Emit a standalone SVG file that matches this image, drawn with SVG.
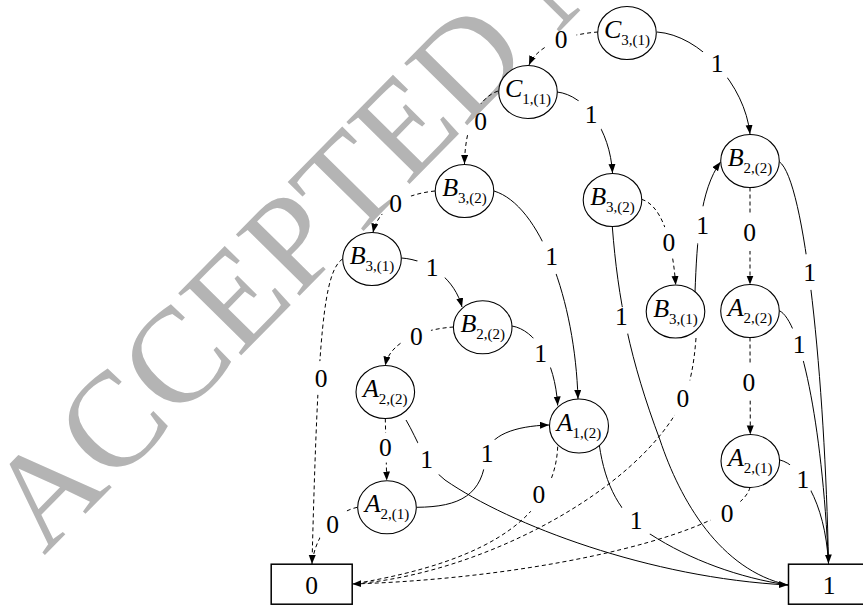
<svg xmlns="http://www.w3.org/2000/svg" width="863" height="607" viewBox="0 0 863 607">
<style>
.wm{font-family:"Liberation Serif","Times New Roman","DejaVu Serif",serif;font-size:135px;fill:#b4b4b4}
.node ellipse{fill:#fff;stroke:#000;stroke-width:1.1}
.node rect{fill:#fff;stroke:#000;stroke-width:1.5}
.nl{font-family:"Liberation Serif","Times New Roman","DejaVu Serif",serif;text-anchor:middle;fill:#000}
.nl .m{font-style:italic;font-size:26px}
.nl .s{font-size:15px}
.bl{font-family:"Liberation Serif","Times New Roman","DejaVu Serif",serif;font-size:25.5px;text-anchor:middle;fill:#000}
.el{font-family:"Liberation Serif","Times New Roman","DejaVu Serif",serif;font-size:25.5px;text-anchor:middle;fill:#000}
.e{fill:none;stroke:#000;stroke-width:1}
.d{stroke-dasharray:4 3}
.a{marker-end:url(#ah)}
</style>
<defs>
<marker id="ah" markerWidth="10" markerHeight="8" refX="9" refY="3.5" orient="auto" markerUnits="userSpaceOnUse"><path d="M0,0 L9,3.5 L0,7 Z" fill="#000"/></marker>
<mask id="gaps" maskUnits="userSpaceOnUse" x="0" y="0" width="863" height="607">
<rect x="0" y="0" width="863" height="607" fill="#fff"/>
<g fill="#000">
<circle cx="561" cy="39" r="16"/>
<circle cx="717" cy="63" r="18"/>
<circle cx="480.5" cy="121.7" r="18"/>
<circle cx="591" cy="114" r="18"/>
<circle cx="395.5" cy="203.3" r="17"/>
<circle cx="321" cy="378" r="17"/>
<circle cx="432" cy="267.7" r="16"/>
<circle cx="416.3" cy="336.7" r="16"/>
<circle cx="540.5" cy="353.8" r="17"/>
<circle cx="551.7" cy="256.7" r="18"/>
<circle cx="385.3" cy="447.7" r="15"/>
<circle cx="426.7" cy="459.7" r="19"/>
<circle cx="487.2" cy="453.8" r="16"/>
<circle cx="332.7" cy="524.7" r="18"/>
<circle cx="538.8" cy="494.3" r="19"/>
<circle cx="636.2" cy="520.5" r="19"/>
<circle cx="668.8" cy="242.5" r="16"/>
<circle cx="621.5" cy="321" r="14"/>
<circle cx="702.5" cy="225.3" r="19"/>
<circle cx="682.8" cy="398" r="19"/>
<circle cx="749.7" cy="233" r="18"/>
<circle cx="809.5" cy="272" r="18"/>
<circle cx="748.8" cy="382.5" r="18"/>
<ellipse cx="799" cy="344" rx="13" ry="18"/>
<circle cx="727.2" cy="513.8" r="18"/>
<ellipse cx="800" cy="478" rx="15" ry="18"/>
</g>
</mask>
</defs>
<rect x="0" y="0" width="863" height="607" fill="#fff"/>
<text class="wm" x="0" y="0" transform="translate(44,556) rotate(-45.5)">ACCEPTED MANUSCRIPT</text>
<g id="connectors" mask="url(#gaps)">
<path class="e d a" d="M598,32 C570,34 538,44 529,65"/>
<path class="e a" d="M657,32 C700,35 745,85 750,134"/>
<path class="e d a" d="M498,91 C478,98 465,125 464.5,164"/>
<path class="e a" d="M557,92 C585,95 610,130 612.5,173"/>
<path class="e d a" d="M435,191 C405,194 378,208 373,232.5"/>
<path class="e d a" d="M342.5,259 C324,272 318,330 312,564"/>
<path class="e a" d="M401.5,258 C430,260 455,280 462,307"/>
<path class="e d a" d="M453.5,327 C425,329 390,340 385.3,365.5"/>
<path class="e a" d="M512,326 C535,330 555,360 557.7,405.5"/>
<path class="e a" d="M494,191 C540,205 575,300 578,399"/>
<path class="e d a" d="M385.3,418.5 L386.7,480.5"/>
<path class="e a" d="M406,420 C418,440 425,465 445,480 C510,525 650,578 788,585"/>
<path class="e a" d="M416.7,507.3 C460,507 483,495 486,455 C489,435 515,426 549,425"/>
<path class="e d" d="M357.3,507.3 C335,512 315,535 312,564"/>
<path class="e d" d="M557.7,446.7 C555,510 500,560 352.3,584"/>
<path class="e" d="M599.3,445 C605,485 620,515 650,534 C690,560 740,578 788,585"/>
<path class="e d a" d="M641.7,199.3 C660,205 672,235 675.7,285"/>
<path class="e" d="M612.3,226.7 C618,300 630,360 660,440 C680,500 720,570 788,585"/>
<path class="e a" d="M695,292 C697,240 700,190 720.5,162"/>
<path class="e d" d="M696,338 C694,365 690,385 683,400 C640,490 480,575 352.3,584"/>
<path class="e d a" d="M750,187.5 L750,284.5"/>
<path class="e a" d="M779.3,161.7 C805,180 825,380 828.5,563.5"/>
<path class="e d a" d="M750,337.5 L750.3,434.5"/>
<path class="e" d="M779.3,310.7 C800,320 822,420 828.5,563.5"/>
<path class="e d a" d="M750,487.3 C740,530 550,578 352.3,584"/>
<path class="e" d="M780,460 C800,465 825,500 828.5,563.5"/>
</g>
<g id="edge-labels">
<text class="el" x="561" y="47.5">0</text>
<text class="el" x="717" y="71.5">1</text>
<text class="el" x="480.5" y="130.2">0</text>
<text class="el" x="591" y="122.5">1</text>
<text class="el" x="395.5" y="211.8">0</text>
<text class="el" x="321" y="386.5">0</text>
<text class="el" x="432" y="276.2">1</text>
<text class="el" x="416.3" y="345.2">0</text>
<text class="el" x="540.5" y="362.3">1</text>
<text class="el" x="551.7" y="265.2">1</text>
<text class="el" x="385.3" y="456.2">0</text>
<text class="el" x="426.7" y="468.2">1</text>
<text class="el" x="487.2" y="462.3">1</text>
<text class="el" x="332.7" y="533.2">0</text>
<text class="el" x="538.8" y="502.8">0</text>
<text class="el" x="636.2" y="529">1</text>
<text class="el" x="668.8" y="251">0</text>
<text class="el" x="621.3" y="324.7">1</text>
<text class="el" x="702.5" y="233.8">1</text>
<text class="el" x="682.8" y="406.5">0</text>
<text class="el" x="749.7" y="241">0</text>
<text class="el" x="809.5" y="280.5">1</text>
<text class="el" x="748.8" y="390.7">0</text>
<text class="el" x="799" y="353">1</text>
<text class="el" x="727.2" y="522.3">0</text>
<text class="el" x="802.8" y="487.7">1</text>
</g>
<g id="n-C31" class="node"><ellipse cx="627" cy="33" rx="29.3" ry="26.5"/><text class="nl" x="627" y="38"><tspan class="m">C</tspan><tspan class="s" dy="7">3,(1)</tspan></text></g>
<g id="n-C11" class="node"><ellipse cx="528" cy="92" rx="29.3" ry="26.5"/><text class="nl" x="528" y="97"><tspan class="m">C</tspan><tspan class="s" dy="7">1,(1)</tspan></text></g>
<g id="n-B32-left" class="node"><ellipse cx="464.5" cy="191" rx="29.3" ry="26.5"/><text class="nl" x="464.5" y="196"><tspan class="m">B</tspan><tspan class="s" dy="7">3,(2)</tspan></text></g>
<g id="n-B32-right" class="node"><ellipse cx="612.5" cy="200" rx="29.3" ry="26.5"/><text class="nl" x="612.5" y="205"><tspan class="m">B</tspan><tspan class="s" dy="7">3,(2)</tspan></text></g>
<g id="n-B22-right" class="node"><ellipse cx="750" cy="161" rx="29.3" ry="26.5"/><text class="nl" x="750" y="166"><tspan class="m">B</tspan><tspan class="s" dy="7">2,(2)</tspan></text></g>
<g id="n-B31-left" class="node"><ellipse cx="372" cy="259" rx="29.3" ry="26.5"/><text class="nl" x="372" y="264"><tspan class="m">B</tspan><tspan class="s" dy="7">3,(1)</tspan></text></g>
<g id="n-B31-right" class="node"><ellipse cx="675.5" cy="311.5" rx="29.3" ry="26.5"/><text class="nl" x="675.5" y="316.5"><tspan class="m">B</tspan><tspan class="s" dy="7">3,(1)</tspan></text></g>
<g id="n-A22-right" class="node"><ellipse cx="750" cy="311" rx="29.3" ry="26.5"/><text class="nl" x="750" y="316"><tspan class="m">A</tspan><tspan class="s" dy="7">2,(2)</tspan></text></g>
<g id="n-B22-mid" class="node"><ellipse cx="482.7" cy="327.3" rx="29.3" ry="26.5"/><text class="nl" x="482.7" y="332.3"><tspan class="m">B</tspan><tspan class="s" dy="7">2,(2)</tspan></text></g>
<g id="n-A22-left" class="node"><ellipse cx="385.3" cy="392" rx="29.3" ry="26.5"/><text class="nl" x="385.3" y="397"><tspan class="m">A</tspan><tspan class="s" dy="7">2,(2)</tspan></text></g>
<g id="n-A12" class="node"><ellipse cx="579" cy="426" rx="29.5" ry="27"/><text class="nl" x="579" y="431"><tspan class="m">A</tspan><tspan class="s" dy="7">1,(2)</tspan></text></g>
<g id="n-A21-right" class="node"><ellipse cx="750.3" cy="461" rx="29.3" ry="26.5"/><text class="nl" x="750.3" y="466"><tspan class="m">A</tspan><tspan class="s" dy="7">2,(1)</tspan></text></g>
<g id="n-A21-left" class="node"><ellipse cx="387" cy="507.3" rx="29.3" ry="26.5"/><text class="nl" x="387" y="512.3"><tspan class="m">A</tspan><tspan class="s" dy="7">2,(1)</tspan></text></g>
<g id="t-0" class="node"><rect x="271.2" y="564.2" width="81" height="40"/><text class="bl" x="311.7" y="593.5">0</text></g>
<g id="t-1" class="node"><rect x="788.5" y="564.2" width="81" height="40"/><text class="bl" x="829" y="593.5">1</text></g>
</svg>
